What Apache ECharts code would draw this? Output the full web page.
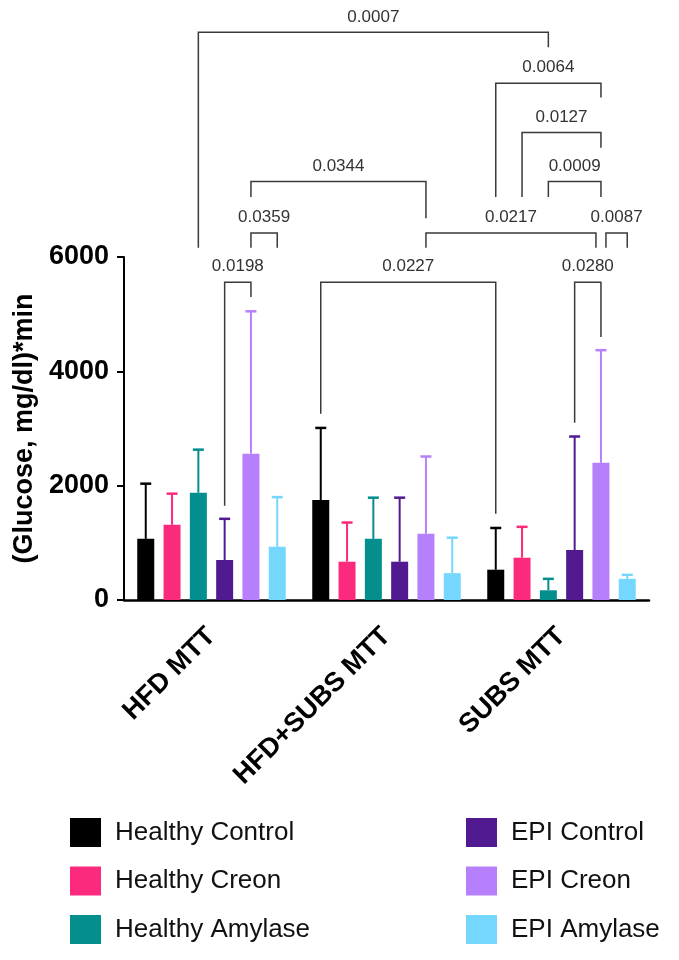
<!DOCTYPE html>
<html>
<head>
<meta charset="utf-8">
<script src="https://cdn.jsdelivr.net/npm/echarts@6/dist/echarts.min.js"></script>
<style>
  html, body { margin: 0; padding: 0; background: #fff; }
  #chart { width: 679px; height: 960px; }
</style>
</head>
<body>
<div id="chart"></div>
<script>
// categories and groups
var categories = ['HFD MTT', 'HFD+SUBS MTT', 'SUBS MTT'];
var groupNames = ['Healthy Control', 'Healthy Creon', 'Healthy Amylase', 'EPI Control', 'EPI Creon', 'EPI Amylase'];
var colors = ['#000000', '#FB2A7C', '#048E8E', '#521A91', '#B67FFB', '#75D7FD'];

// means (per group, one value per category)
var healthyControl = [1070, 1750, 530];
var healthyCreon = [1315, 670, 740];
var healthyAmylase = [1877, 1070, 170];
var epiControl = [700, 670, 875];
var epiCreon = [2560, 1160, 2400];
var epiAmylase = [930, 470, 370];

// SD (upper error bar only)
var healthyControlSd = [965, 1260, 730];
var healthyCreonSd = [545, 685, 540];
var healthyAmylaseSd = [753, 720, 200];
var epiControlSd = [720, 1120, 1985];
var epiCreonSd = [2490, 1350, 1970];
var epiAmylaseSd = [870, 620, 70];

var yTicks = [0, 2000, 4000, 6000];

// significance brackets: [category, bar] ends, heights in data units
var bracketLabels = ['0.0198', '0.0227', '0.0280', '0.0359', '0.0217', '0.0087', '0.0344', '0.0009', '0.0127', '0.0064', '0.0007'];
var bracketFrom = [[0, 3], [1, 0], [2, 3], [0, 4], [1, 4], [2, 4], [0, 4], [2, 2], [2, 1], [2, 0], [0, 2]];
var bracketTo = [[0, 4], [2, 0], [2, 4], [0, 5], [2, 4], [2, 5], [1, 4], [2, 4], [2, 4], [2, 4], [2, 2]];
var bracketTop = [5560, 5560, 5560, 6420, 6420, 6420, 7320, 7320, 8180, 9040, 9930];
var bracketLeftEnd = [1650, 3260, 3100, 6160, 6160, 6160, 7050, 7050, 7050, 7050, 6160];
var bracketRightEnd = [5300, 1510, 4600, 6160, 6160, 6160, 6680, 7050, 7910, 8790, 9670];

var means = [healthyControl, healthyCreon, healthyAmylase, epiControl, epiCreon, epiAmylase];
var sds = [healthyControlSd, healthyCreonSd, healthyAmylaseSd, epiControlSd, epiCreonSd, epiAmylaseSd];

var FONT = "'Liberation Sans', Arial, Helvetica, sans-serif";
var BAR_W = 17;
var BAR_STEP = 26.3;
var NUDGE = 5;

var chart = echarts.init(document.getElementById('chart'));

function errRenderer(s) {
  return function (params, api) {
    var base = api.coord([api.value(0), api.value(1)]);
    var top = api.coord([api.value(0), api.value(1) + api.value(2)]);
    var x = base[0] + (s - 2.5) * BAR_STEP;
    return {
      type: 'group',
      children: [
        { type: 'line', shape: { x1: x, y1: base[1], x2: x, y2: top[1] }, style: { stroke: colors[s], lineWidth: 2 } },
        { type: 'line', shape: { x1: x - 5.5, y1: top[1], x2: x + 5.5, y2: top[1] }, style: { stroke: colors[s], lineWidth: 2.5 } }
      ]
    };
  };
}

// shift ends that share a bar with a neighbouring bracket on the same level
function sameEnd(a, b) { return a[0] === b[0] && a[1] === b[1]; }
var nudges = bracketLabels.map(function (l, i) {
  var left = 0, right = 0;
  for (var j = 0; j < bracketLabels.length; j++) {
    if (j === i || bracketTop[j] !== bracketTop[i]) continue;
    if (sameEnd(bracketTo[i], bracketFrom[j])) right = -NUDGE;
    if (sameEnd(bracketFrom[i], bracketTo[j])) left = NUDGE;
  }
  return [left, right];
});

function bracketRenderer(params, api) {
  var i = params.dataIndex;
  var xa = api.coord([api.value(0), 0])[0] + (api.value(1) - 2.5) * BAR_STEP + nudges[i][0];
  var xb = api.coord([api.value(2), 0])[0] + (api.value(3) - 2.5) * BAR_STEP + nudges[i][1];
  var yt = api.coord([0, api.value(4)])[1];
  var yl = api.coord([0, api.value(5)])[1];
  var yr = api.coord([0, api.value(6)])[1];
  return {
    type: 'group',
    children: [
      {
        type: 'polyline',
        shape: { points: [[xa, yl], [xa, yt], [xb, yt], [xb, yr]] },
        style: { stroke: '#3a3a3a', lineWidth: 1.5, fill: null }
      },
      {
        type: 'text',
        style: {
          x: (xa + xb) / 2, y: yt - 7,
          text: bracketLabels[i],
          fill: '#333', font: '17px ' + FONT,
          textAlign: 'center', textVerticalAlign: 'bottom'
        }
      }
    ]
  };
}

var series = [];
groupNames.forEach(function (name, s) {
  series.push({
    name: name,
    type: 'bar',
    data: means[s],
    barWidth: BAR_W,
    barGap: ((BAR_STEP - BAR_W) / BAR_W * 100) + '%',
    itemStyle: { color: colors[s] },
    z: 2
  });
});
groupNames.forEach(function (name, s) {
  series.push({
    name: 'err' + s,
    type: 'custom',
    renderItem: errRenderer(s),
    data: means[s].map(function (m, c) { return [c, m, sds[s][c]]; }),
    encode: { x: 0, y: 1 },
    clip: false,
    z: 3
  });
});
series.push({
  name: 'brackets',
  type: 'custom',
  renderItem: bracketRenderer,
  data: bracketLabels.map(function (l, i) {
    return [bracketFrom[i][0], bracketFrom[i][1], bracketTo[i][0], bracketTo[i][1],
      bracketTop[i], bracketLeftEnd[i], bracketRightEnd[i]];
  }),
  encode: { x: 0, y: 4 },
  clip: false,
  silent: true,
  z: 4
});

var legendBase = {
  orient: 'vertical',
  top: 818,
  padding: 0,
  itemWidth: 31,
  itemHeight: 29,
  itemGap: 19.5,
  icon: 'rect',
  selectedMode: false,
  textStyle: { fontSize: 26, color: '#111', fontFamily: FONT, padding: [0, 0, 0, 9] }
};

chart.setOption({
  animation: false,
  backgroundColor: '#fff',
  textStyle: { fontFamily: FONT },
  grid: { left: 124, width: 525, top: 257, bottom: 360 },
  legend: [
    Object.assign({}, legendBase, { left: 70, data: groupNames.slice(0, 3) }),
    Object.assign({}, legendBase, { left: 466, data: groupNames.slice(3) })
  ],
  xAxis: {
    type: 'category',
    data: categories,
    axisLine: { lineStyle: { color: '#000', width: 2.5 } },
    axisTick: { alignWithLabel: true, length: 9, lineStyle: { color: '#000', width: 2 } },
    axisLabel: {
      rotate: 45, fontSize: 27, fontWeight: 'bold', color: '#000',
      fontFamily: FONT, margin: 32
    }
  },
  yAxis: {
    type: 'value',
    min: yTicks[0],
    max: yTicks[yTicks.length - 1],
    interval: yTicks[1] - yTicks[0],
    name: '(Glucose, mg/dl)*min',
    nameLocation: 'middle',
    nameGap: 86,
    nameTextStyle: { fontSize: 27, fontWeight: 'bold', color: '#000', fontFamily: FONT },
    axisLine: { show: true, lineStyle: { color: '#000', width: 2 } },
    axisTick: { show: true, length: 7, lineStyle: { color: '#000', width: 2 } },
    axisLabel: {
      fontSize: 27, fontWeight: 'bold', color: '#000', fontFamily: FONT, margin: 15,
      formatter: function (v) { return String(v); }
    },
    splitLine: { show: false }
  },
  series: series
});
</script>
</body>
</html>
